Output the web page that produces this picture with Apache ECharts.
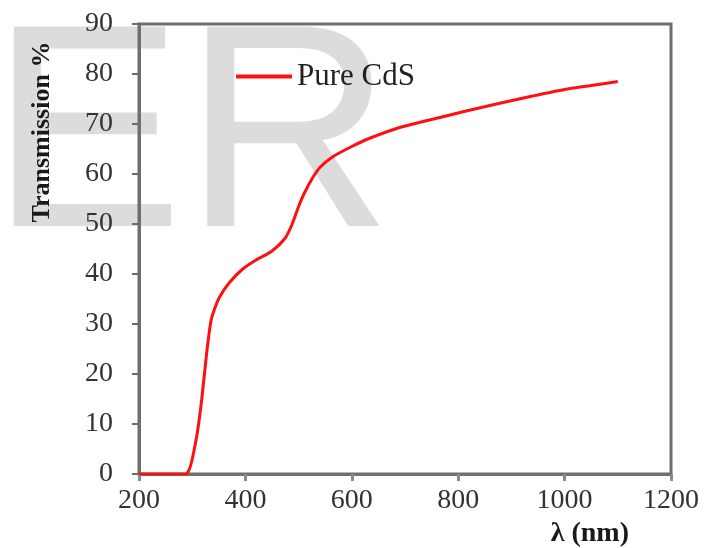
<!DOCTYPE html>
<html>
<head>
<meta charset="utf-8">
<script src="https://cdn.jsdelivr.net/npm/echarts@6/dist/echarts.min.js"></script>
<style>
  html, body { margin: 0; padding: 0; background: #fff; }
  #main { width: 715px; height: 548px; }
</style>
</head>
<body>
<div id="main"></div>
<script>
// wavelength (nm) and transmission (%)
var wavelength = [200, 250, 288, 294, 299, 304, 310, 318, 327, 335, 342, 352, 370, 395, 420, 450, 475, 488, 500, 510, 525, 540, 565, 600, 630, 690, 750, 815, 880, 940, 1000, 1050, 1100];
var transmission = [0, 0, 0, 0.8, 2.5, 5, 8.5, 15, 24, 30.5, 33, 35.5, 38.3, 41, 42.8, 44.6, 47.2, 50, 53.5, 56, 59, 61.3, 63.5, 65.5, 67, 69.3, 70.9, 72.6, 74.2, 75.6, 76.9, 77.7, 78.5];
var xTicks = [200, 1200, 200];   // min, max, interval
var yTicks = [0, 90, 10];

var seriesName = "Pure CdS";
var xName = "λ (nm)";
var yName = "Transmission %";

var points = wavelength.map(function (w, i) { return [w, transmission[i]]; });

var axisGray = "#6f6f6f";
var serif = "Liberation Serif, Times New Roman, serif";

var chart = echarts.init(document.getElementById("main"));
chart.setOption({
    animation: false,
    backgroundColor: "#fff",
    grid: {
        left: 139, right: 44, top: 24, bottom: 72,
        show: true, borderColor: axisGray, borderWidth: 3, backgroundColor: "transparent"
    },
    graphic: [
        {
            // faint watermark behind the plot
            type: "text", z: -10, silent: true, left: -10, top: 1,
            style: { text: "ER", fontFamily: "Liberation Sans, Arial, sans-serif", fontSize: 290, fill: "#dcdcdc" }
        },
        {
            type: "text", x: 42, y: 132, rotation: Math.PI / 2,
            style: {
                text: yName, fontFamily: serif, fontWeight: "bold", fontSize: 26,
                fill: "#1a1a1a", align: "center", verticalAlign: "middle"
            }
        }
    ],
    legend: {
        left: 231, top: 56,
        itemWidth: 56, itemHeight: 4, itemGap: 0,
        icon: "rect",
        textStyle: { fontFamily: serif, fontSize: 31, color: "#222", padding: [0, 0, 0, 0] },
        data: [seriesName]
    },
    xAxis: {
        type: "value",
        min: xTicks[0], max: xTicks[1], interval: xTicks[2],
        name: xName, nameLocation: "end",
        nameGap: 0,
        nameTextStyle: {
            fontFamily: serif, fontWeight: "bold", fontSize: 28, color: "#1a1a1a",
            align: "right", verticalAlign: "top", padding: [46, 42, 0, 0]
        },
        axisLine: { show: true, lineStyle: { color: axisGray, width: 3 } },
        axisTick: { show: true, inside: false, length: 7, lineStyle: { color: "#8a8a8a", width: 3 } },
        axisLabel: {
            margin: 13, fontFamily: serif, fontSize: 28, color: "#333",
            formatter: function (v) { return String(v); }
        },
        splitLine: { show: false }
    },
    yAxis: {
        type: "value",
        min: yTicks[0], max: yTicks[1], interval: yTicks[2],
        axisLine: { show: true, lineStyle: { color: axisGray, width: 3 } },
        axisTick: { show: true, inside: false, length: 7, lineStyle: { color: "#6a6a6a", width: 2 } },
        axisLabel: { margin: 26, fontFamily: serif, fontSize: 28, color: "#333" },
        splitLine: { show: false }
    },
    series: [
        {
            name: seriesName,
            type: "line",
            data: points,
            smooth: 0.25,
            showSymbol: false,
            lineStyle: { color: "#ff1010", width: 3 },
            itemStyle: { color: "#ff1010" }
        }
    ]
});
</script>
</body>
</html>
